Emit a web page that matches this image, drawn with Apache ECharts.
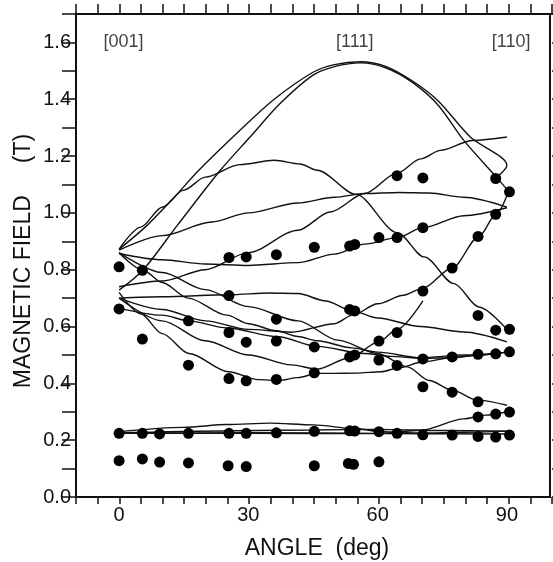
<!DOCTYPE html>
<html><head><meta charset="utf-8">
<script src="https://cdn.jsdelivr.net/npm/echarts@6/dist/echarts.min.js"></script>
<style>html,body{margin:0;padding:0;background:#fff}#c{width:553px;height:562px}</style>
</head><body><div id="c"></div>
<script>
// ---- data ----
var xTickLabels = [0, 30, 60, 90];
var yTickLabels = [0.0, 0.2, 0.4, 0.6, 0.8, 1.0, 1.2, 1.4, 1.6];
var xMin = -10, xMax = 100, xStep = 5;
var yMin = 0, yMax = 1.7, yStep = 0.1;
var directionNames = ['[001]', '[111]', '[110]'];
var directionAngles = [1, 54.7, 91];
var directionField = 1.6;

// measured resonance fields (angle deg, field T)
var measuredDots = [
 [0,0.81],[0,0.662],[0,0.224],[0,0.128],
 [5.4,0.798],[5.4,0.556],[5.4,0.224],[5.4,0.134],
 [9.4,0.222],[9.4,0.123],
 [16.1,0.620],[16.1,0.464],[16.1,0.224],[16.1,0.120],
 [25.5,0.843],[25.5,0.709],[25.5,0.579],[25.5,0.417],[25.5,0.224],[25.3,0.110],
 [29.5,0.845],[29.5,0.545],[29.5,0.409],[29.5,0.224],[29.5,0.107],
 [36.5,0.853],[36.5,0.626],[36.5,0.549],[36.5,0.414],[36.5,0.226],
 [45.3,0.879],[45.3,0.528],[45.3,0.437],[45.3,0.231],[45.3,0.110],
 [53.5,0.883],[53.5,0.660],[53.5,0.493],[53.5,0.233],[53.2,0.118],
 [54.7,0.889],[54.7,0.655],[54.7,0.500],[54.7,0.232],[54.4,0.115],
 [60.3,0.913],[60.3,0.549],[60.3,0.482],[60.3,0.230],[60.3,0.124],
 [64.5,1.131],[64.5,0.913],[64.5,0.579],[64.5,0.463],[64.5,0.224],
 [70.5,1.123],[70.5,0.948],[70.5,0.725],[70.5,0.486],[70.5,0.388],[70.5,0.219],
 [77.3,0.806],[77.3,0.493],[77.3,0.369],[77.3,0.218],
 [83.3,0.917],[83.3,0.639],[83.3,0.502],[83.3,0.335],[83.3,0.282],[83.3,0.213],
 [87.4,1.121],[87.4,0.995],[87.4,0.587],[87.4,0.504],[87.4,0.292],[87.4,0.211],
 [90.6,1.074],[90.6,0.590],[90.6,0.511],[90.6,0.299],[90.6,0.218]
];

// calculated angular dependences (angle deg, field T)
var curveA1 = [[0,0.872],[6.5,0.956],[12.5,1.05],[18.5,1.15],[28,1.29],[36,1.40],[45,1.495],[50,1.522],[56,1.532],[62,1.515],[68,1.465],[74,1.395],[81.5,1.267],[90,1.167],[87.6,1.125]];
var curveA2 = [[0,0.728],[5.6,0.80],[13.5,0.956],[23.5,1.15],[30.4,1.267],[37.3,1.384],[45,1.485],[50,1.515],[56,1.528],[62,1.51],[68,1.46],[74,1.38],[80,1.255],[87.6,1.125],[90.5,1.074]];
var curveA3 = [[0,0.872],[5,0.95],[10,1.02],[15,1.08],[20,1.126],[28,1.17],[36,1.185],[42,1.172],[46,1.15],[55,1.065],[64.6,0.93],[70.8,0.845],[77.7,0.751],[83.5,0.669],[90,0.59]];
var curveA4 = [[0,0.869],[10,0.92],[21.5,0.968],[30,1.0],[41.5,1.035],[50,1.055],[57,1.068],[65,1.072],[72,1.07],[80,1.055],[90,1.02]];
var curveA5 = [[0,0.74],[10,0.76],[20,0.80],[30,0.86],[41.5,0.939],[49,1.003],[57,1.068],[64.5,1.14],[70,1.19],[74.6,1.22],[82,1.255],[90,1.267]];
var curveA6 = [[0,0.857],[10,0.835],[20,0.82],[30,0.815],[41.5,0.825],[50,0.855],[57,0.89],[64.6,0.913],[70.5,0.948],[80,0.99],[90,1.018]];
var curveA7 = [[0,0.70],[10,0.66],[20,0.62],[30,0.59],[40,0.58],[50,0.61],[54.2,0.64],[60,0.68],[66,0.71],[70.5,0.735],[77.3,0.806],[83.5,0.917],[87.5,0.995],[90,1.06]];
var curveB1 = [[0,0.86],[5.4,0.80],[10,0.755],[16,0.70],[25,0.64],[30,0.61],[36.5,0.585],[41.5,0.565],[46,0.55],[54,0.525],[60,0.51],[70,0.49],[80,0.50],[90,0.51]];
var curveB2 = [[0,0.86],[10,0.79],[20,0.73],[30,0.67],[41.5,0.62],[50.8,0.552],[60,0.505],[66.9,0.458],[72,0.41],[77.3,0.376],[83.1,0.341],[90,0.323]];
var curveB3 = [[0,0.70],[10,0.705],[25.5,0.712],[35,0.718],[41.5,0.716],[48,0.69],[53.8,0.657],[60,0.63],[70,0.60],[80,0.581],[90,0.546]];
var curveU1 = [[0,0.72],[5,0.645],[10,0.575],[16.2,0.505],[25.4,0.441],[32.3,0.413],[37,0.41],[41.5,0.42],[46,0.435],[49.2,0.435],[55,0.436],[60.8,0.441],[65,0.455],[70.4,0.475],[77,0.49],[83.1,0.499],[90,0.51]];
var curveU2 = [[0,0.70],[10,0.62],[20,0.55],[30,0.50],[40,0.465],[46,0.45],[53.5,0.49],[60.3,0.546],[64.5,0.59],[70.5,0.69]];
var curveU3 = [[0,0.665],[10,0.64],[16.2,0.62],[25,0.595],[36.9,0.564],[46,0.53],[56.9,0.505],[63,0.495],[70.4,0.488],[77,0.49],[83.1,0.499],[90,0.51]];
var curveG1 = [[0,0.224],[30,0.224],[60,0.223],[90,0.222]];
var curveG2 = [[0,0.23],[15,0.245],[25,0.255],[35,0.26],[45,0.254],[55,0.24],[61,0.23],[70,0.225],[80,0.228],[90,0.232]];
var curveG3 = [[0,0.225],[30,0.226],[60,0.224],[70,0.235],[80,0.275],[85,0.288],[90,0.30]];
var curveG4 = [[0,0.226],[45,0.236],[60,0.238],[75,0.234],[90,0.232]];

var curves = [curveA1,curveA2,curveA3,curveA4,curveA5,curveA6,curveA7,curveB1,curveB2,curveB3,curveU1,curveU2,curveU3,curveG1,curveG2,curveG3,curveG4];

// ---- chart ----
var chart = echarts.init(document.getElementById('c'), null, {renderer:'canvas'});
var FONT = '"Liberation Sans", Arial, sans-serif';
var ink = '#111';
var series = curves.map(function(c, k){
  var s = {type:'line', data:c, showSymbol:false, smooth:0.3,
          lineStyle:{color:ink, width:1.4}, z:2, silent:true};
  if (k >= 2) s.smoothMonotone = 'x';
  return s;
});
series.push({type:'scatter', data:measuredDots, symbol:'circle', symbolSize:11, itemStyle:{color:'#000', opacity:1}, z:3, silent:true});
series.push({type:'scatter', symbolSize:0, silent:true, z:4,
  data: directionNames.map(function(n,k){return {name:n, value:[directionAngles[k], directionField]};}),
  label:{show:true, position:'inside', formatter:function(p){return p.name;}, fontFamily:FONT, fontSize:18, color:ink}
});

function xLab(v){ return xTickLabels.indexOf(Math.round(v))>=0 ? String(Math.round(v)) : ''; }
function yLab(v){ var r=Math.round(v*10)/10; for(var k=0;k<yTickLabels.length;k++){ if(Math.abs(yTickLabels[k]-r)<1e-6) return r.toFixed(1);} return ''; }

var gridRect = {left:76, right:1, top:14, bottom:65};
function tick(len){ return {show:true, inside:false, length:len, lineStyle:{color:ink, width:1.5}}; }
function hidden(g, lo, hi){ return {type:'value', gridIndex:g, min:lo, max:hi, show:false}; }
chart.setOption({
  animation:false,
  grid:[gridRect, gridRect, gridRect, gridRect, gridRect],
  xAxis:[
    {type:'value', gridIndex:0, position:'bottom', min:xMin, max:xMax, interval:xStep,
     axisLine:{show:true, lineStyle:{color:ink, width:2}}, axisTick:{show:false},
     axisLabel:{formatter:xLab, fontFamily:FONT, fontSize:20, color:ink, margin:8},
     splitLine:{show:false}},
    {type:'value', gridIndex:1, position:'top', min:xMin, max:xMax, interval:xStep,
     axisLine:{show:true, lineStyle:{color:ink, width:2}}, axisTick:tick(10),
     axisLabel:{show:false}, splitLine:{show:false}},
    hidden(2, 0, xMax - xMin),
    hidden(3, xMin - xMax, 0),
    {type:'value', gridIndex:4, position:'bottom', min:xMin, max:xMax, interval:xStep,
     axisLine:{show:false}, axisTick:tick(7),
     axisLabel:{show:false}, splitLine:{show:false}}
  ],
  yAxis:[
    {type:'value', gridIndex:0, position:'left', min:yMin, max:yMax, interval:yStep,
     axisLine:{show:true, onZero:false, lineStyle:{color:ink, width:2}}, axisTick:{show:false},
     axisLabel:{formatter:yLab, fontFamily:FONT, fontSize:20, color:ink, margin:5},
     splitLine:{show:false}},
    {type:'value', gridIndex:0, position:'right', min:yMin, max:yMax, interval:yStep,
     axisLine:{show:true, onZero:false, lineStyle:{color:ink, width:2}}, axisTick:{show:false},
     axisLabel:{show:false}, splitLine:{show:false}},
    hidden(1, -yMax, 0),
    {type:'value', gridIndex:2, position:'left', min:yMin, max:yMax, interval:yStep,
     axisLine:{show:false}, axisTick:tick(14), axisLabel:{show:false}, splitLine:{show:false}},
    {type:'value', gridIndex:3, position:'right', min:yMin, max:yMax, interval:yStep,
     axisLine:{show:false}, axisTick:tick(11), axisLabel:{show:false}, splitLine:{show:false}},
    hidden(4, yMin, yMax)
  ],
  graphic:[
    {type:'text', x:317, y:549, style:{text:'ANGLE  (deg)', fontFamily:FONT, fontSize:23, fill:ink, align:'center', verticalAlign:'middle'}},
    {type:'text', x:24, y:261, rotation:Math.PI/2, style:{text:'MAGNETIC FIELD     (T)', fontFamily:FONT, fontSize:23, fill:ink, align:'center', verticalAlign:'middle'}}
  ],
  series:series
});
</script></body></html>
